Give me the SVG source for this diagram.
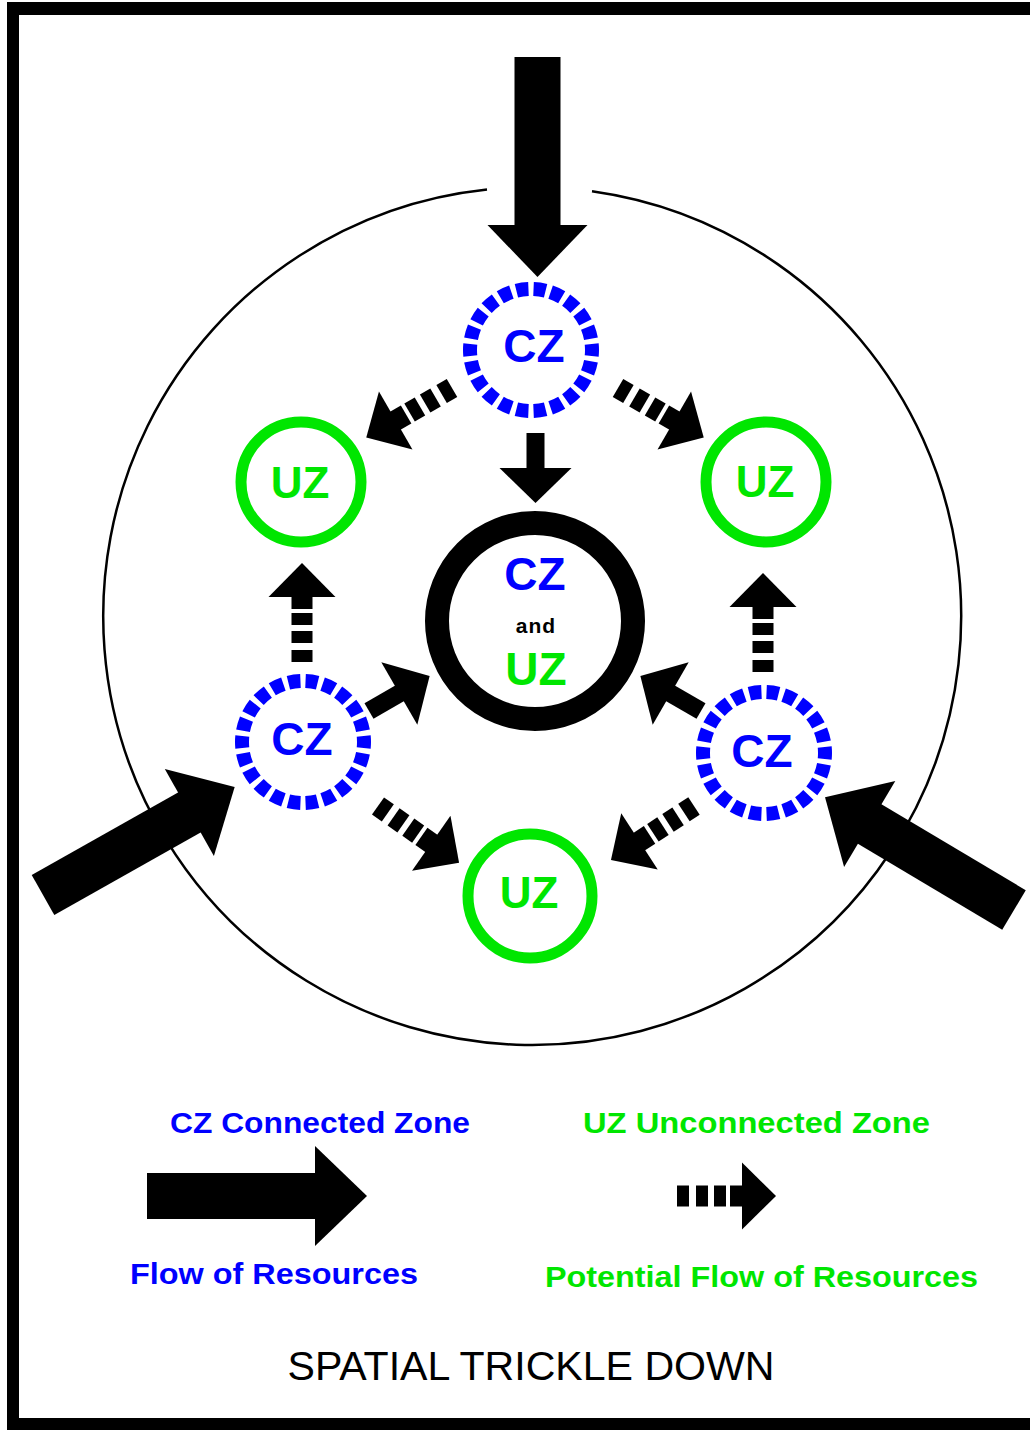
<svg xmlns="http://www.w3.org/2000/svg" xmlns:xlink="http://www.w3.org/1999/xlink" width="1030" height="1432" viewBox="0 0 1030 1432">
<style>
.cz{fill:none;stroke:#0000ff;stroke-width:14;stroke-dasharray:7 3;stroke-dashoffset:3.5}
.uz{fill:none;stroke:#00e600;stroke-width:11}
.lbl{font-family:"Liberation Sans",Arial,sans-serif;font-weight:bold;text-anchor:middle}
.blue{fill:#0000ff}
.green{fill:#00e600}
.leg{font-family:"Liberation Sans",Arial,sans-serif;font-weight:bold;font-size:29px}
</style>
<defs>
<g id="bigArrow"><rect x="0" y="-23" width="170" height="46"/><polygon points="168,-50 220,0 168,50"/></g>
<g id="smallArrow"><rect x="0" y="-9" width="36" height="18"/><polygon points="35,-36 70,0 35,36"/></g>
<g id="dashArrow"><rect x="0" y="-10.5" width="12" height="21"/><rect x="19" y="-10.5" width="12" height="21"/><rect x="37" y="-10.5" width="12" height="21"/><rect x="53" y="-10.5" width="13" height="21"/><polygon points="65,-33.5 99,0 65,33.5"/></g>
</defs>
<rect width="1030" height="1432" fill="#ffffff"/>
<path fill="#000" fill-rule="evenodd" d="M7,2 H1045 V1430 H7 Z M19,15 V1418 H1040 V15 Z"/>
<path d="M487,189.4 A429,429 0 1 0 592,191.2" fill="none" stroke="#000" stroke-width="2.5"/>
<g id="connectors" fill="#000">
<use xlink:href="#bigArrow" transform="translate(537.5,57) rotate(90)"/>
<use xlink:href="#bigArrow" transform="translate(43,895) rotate(-29.4)"/>
<use xlink:href="#bigArrow" transform="translate(1014,910) rotate(210.8)"/>
<use xlink:href="#smallArrow" transform="translate(535.5,433) rotate(90)"/>
<use xlink:href="#smallArrow" transform="translate(369,711) rotate(-30)"/>
<use xlink:href="#smallArrow" transform="translate(701,711) rotate(210)"/>
<use xlink:href="#dashArrow" transform="translate(302,662) rotate(-90)"/>
<use xlink:href="#dashArrow" transform="translate(763,672) rotate(-90)"/>
<use xlink:href="#dashArrow" transform="translate(452,388) rotate(150)"/>
<use xlink:href="#dashArrow" transform="translate(618,388) rotate(30)"/>
<use xlink:href="#dashArrow" transform="translate(378,806) rotate(35)"/>
<use xlink:href="#dashArrow" transform="translate(694,806) rotate(147)"/>
</g>
<g id="cz-top"><circle class="cz" cx="531" cy="350" r="61" pathLength="220"/><text class="lbl blue" x="534" y="362" font-size="46">CZ</text></g>
<g id="cz-left"><circle class="cz" cx="303" cy="742" r="61" pathLength="220"/><text class="lbl blue" x="302" y="755" font-size="46">CZ</text></g>
<g id="cz-right"><circle class="cz" cx="764" cy="753" r="61" pathLength="220"/><text class="lbl blue" x="762" y="767" font-size="46">CZ</text></g>
<g id="uz-left"><circle class="uz" cx="301" cy="482" r="60"/><text class="lbl green" x="300" y="498" font-size="44">UZ</text></g>
<g id="uz-right"><circle class="uz" cx="766" cy="482" r="60"/><text class="lbl green" x="765" y="497" font-size="44">UZ</text></g>
<g id="uz-bottom"><circle class="uz" cx="530" cy="896" r="62" stroke-width="12"/><text class="lbl green" x="529" y="908" font-size="44">UZ</text></g>
<g id="center"><circle cx="535" cy="621" r="98" fill="none" stroke="#000" stroke-width="24"/>
<text class="lbl blue" x="535" y="590" font-size="46">CZ</text>
<text class="lbl" x="536" y="633" font-size="21" letter-spacing="1" fill="#000">and</text>
<text class="lbl green" x="536" y="685" font-size="46">UZ</text></g>
<g id="legend">
<text class="leg blue" x="170" y="1133" textLength="300" lengthAdjust="spacingAndGlyphs">CZ Connected Zone</text>
<use xlink:href="#bigArrow" transform="translate(147,1196)"/>
<text class="leg blue" x="130" y="1284" textLength="288" lengthAdjust="spacingAndGlyphs">Flow of Resources</text>
<text class="leg green" x="583" y="1133" textLength="347" lengthAdjust="spacingAndGlyphs">UZ Unconnected Zone</text>
<use xlink:href="#dashArrow" transform="translate(677,1196)"/>
<text class="leg green" x="545" y="1287" textLength="433" lengthAdjust="spacingAndGlyphs">Potential Flow of Resources</text>
</g>
<text x="531" y="1380" font-family="'Liberation Sans',Arial,sans-serif" font-size="40" text-anchor="middle" textLength="487" lengthAdjust="spacingAndGlyphs" fill="#000">SPATIAL TRICKLE DOWN</text>
</svg>
